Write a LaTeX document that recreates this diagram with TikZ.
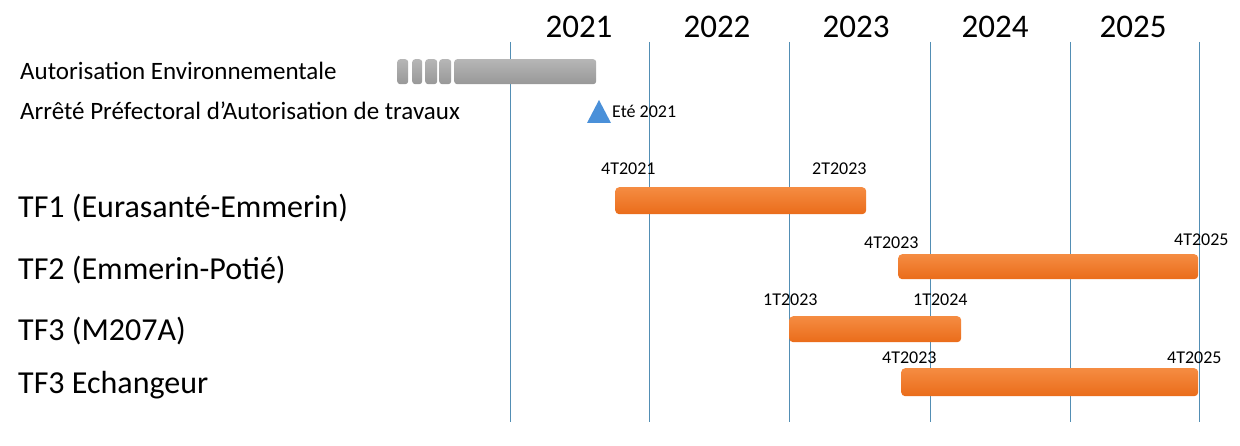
\documentclass[tikz,border=0pt]{standalone}
\usepackage{fontspec}
\setmainfont{Carlito}
\usepackage{tikz}
\usetikzlibrary{positioning, backgrounds}
\definecolor{textColor}{RGB}{0, 0, 0}
\definecolor{gridLine}{RGB}{82, 142, 180}
\definecolor{barTop}{RGB}{245, 140, 66}
\definecolor{barBottom}{RGB}{234, 108, 26}
\definecolor{greyTop}{RGB}{182, 182, 182}
\definecolor{greyBottom}{RGB}{152, 152, 152}
\definecolor{milestoneFill}{RGB}{74, 144, 217}
\tikzset{
    year_line/.style={
        draw=gridLine,
        line width=1pt
    },
    year_label/.style={
        font=\fontsize{33}{36}\selectfont,
        text=textColor,
        anchor=base,
        inner sep=0pt
    },
    row_label/.style={
        font=\fontsize{25}{28}\selectfont,
        text=textColor,
        anchor=base west,
        inner sep=0pt
    },
    phase_label/.style={
        font=\fontsize{32}{35}\selectfont,
        text=textColor,
        anchor=base west,
        inner sep=0pt
    },
    date_label/.style={
        font=\fontsize{18}{20}\selectfont,
        text=textColor,
        anchor=base west,
        inner sep=0pt
    },
    task_bar/.style={
        rounded corners=4pt,
        top color=barTop,
        bottom color=barBottom,
        anchor=north west,
        inner sep=0pt,
        minimum height=27pt
    },
    auth_bar/.style={
        rounded corners=3pt,
        top color=greyTop,
        bottom color=greyBottom,
        anchor=north west,
        inner sep=0pt,
        minimum height=25pt
    }
}

\begin{document}
\begin{tikzpicture}[x=1pt, y=-1pt]
    \useasboundingbox[fill=white] (0,0) rectangle (1240,446);

    % year grid
    \draw[year_line] (510,42) -- (510,422);
    \draw[year_line] (649,42) -- (649,422);
    \draw[year_line] (789,42) -- (789,422);
    \draw[year_line] (930,42) -- (930,422);
    \draw[year_line] (1070,42) -- (1070,422);
    \draw[year_line] (1199,42) -- (1199,422);

    \node[year_label] (y2021) at (579,38) {2021};
    \node[year_label] (y2022) at (717,38) {2022};
    \node[year_label] (y2023) at (856,38) {2023};
    \node[year_label] (y2024) at (995,38) {2024};
    \node[year_label] (y2025) at (1133,38) {2025};

    % autorisations
    \node[row_label] (auth_env) at (20,80) {Autorisation Environnementale};
    \node[row_label] (auth_apat) at (20,120) {Arrêté Préfectoral d’Autorisation de travaux};

    \node[auth_bar, minimum width=11pt] (env_a) at (397,59) {};
    \node[auth_bar, minimum width=10pt] (env_b) at (412,59) {};
    \node[auth_bar, minimum width=12pt] (env_c) at (425,59) {};
    \node[auth_bar, minimum width=12pt] (env_d) at (439,59) {};
    \node[auth_bar, minimum width=142pt] (env_main) at (454,59) {};

    \fill[milestoneFill] (587,123) -- (611,123) -- (599,100) -- cycle;
    \node[date_label] (apat_date) at (612,118) {Eté 2021};

    % travaux
    \node[phase_label] (tf1) at (18,218) {TF1 (Eurasanté-Emmerin)};
    \node[phase_label] (tf2) at (18,280) {TF2 (Emmerin-Potié)};
    \node[phase_label] (tf3) at (18,341) {TF3 (M207A)};
    \node[phase_label] (tf3e) at (18,393) {TF3 Echangeur};

    \node[task_bar, minimum width=251pt] (tf1_bar) at (615,187) {};
    \node[date_label] (tf1_start) at (601,175) {4T2021};
    \node[date_label] (tf1_end) at (812,175) {2T2023};

    \node[task_bar, minimum width=300pt, minimum height=25pt] (tf2_bar) at (898,254) {};
    \node[date_label] (tf2_start) at (864,249) {4T2023};
    \node[date_label] (tf2_end) at (1174,246) {4T2025};

    \node[task_bar, minimum width=172pt, minimum height=26pt] (tf3_bar) at (789,316) {};
    \node[date_label] (tf3_start) at (763,306) {1T2023};
    \node[date_label] (tf3_end) at (913,306) {1T2024};

    \node[task_bar, minimum width=297pt, minimum height=28pt] (tf3e_bar) at (901,368) {};
    \node[date_label] (tf3e_start) at (882,363) {4T2023};
    \node[date_label] (tf3e_end) at (1167,363) {4T2025};
\end{tikzpicture}
\end{document}
